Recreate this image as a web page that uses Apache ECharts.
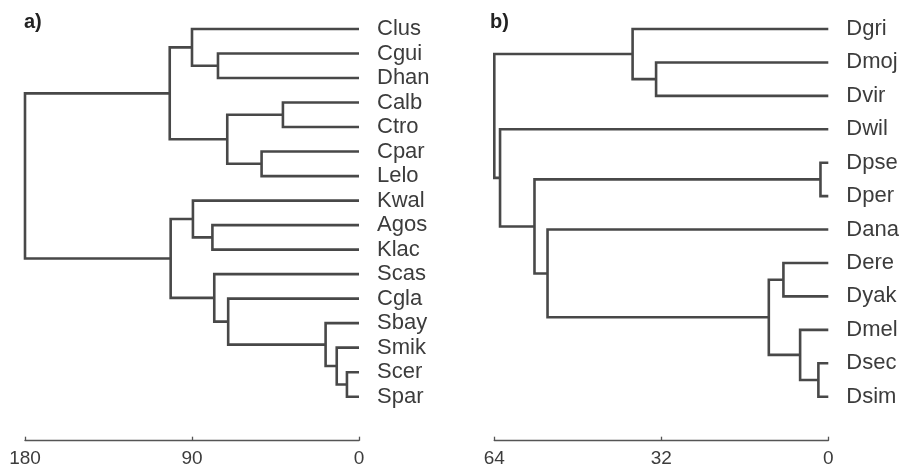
<!DOCTYPE html>
<html>
<head>
<meta charset="utf-8">
<script src="https://cdn.jsdelivr.net/npm/echarts@6/dist/echarts.min.js"></script>
<style>
  html, body { margin: 0; padding: 0; background: #fff; }
  #chart { width: 904px; height: 469px; }
</style>
</head>
<body>
<div id="chart"></div>
<script>
// panel a) leaves, top to bottom
const leavesA = ['Clus', 'Cgui', 'Dhan', 'Calb', 'Ctro', 'Cpar', 'Lelo', 'Kwal',
  'Agos', 'Klac', 'Scas', 'Cgla', 'Sbay', 'Smik', 'Scer', 'Spar'];
// merges: two children (leaf name or index of an earlier merge)
const mergesA = [
  ['Cgui', 'Dhan'], ['Clus', 0], ['Calb', 'Ctro'], ['Cpar', 'Lelo'], [2, 3], [1, 4],
  ['Agos', 'Klac'], ['Kwal', 6], ['Scer', 'Spar'], ['Smik', 8], ['Sbay', 9],
  ['Cgla', 10], ['Scas', 11], [7, 12], [5, 13]
];
const heightsA = [76, 90, 41, 52.5, 71, 102, 79, 89.5, 6.5, 12, 18, 70.5, 78, 101.5, 180];
const ticksA = [180, 90, 0];

// panel b)
const leavesB = ['Dgri', 'Dmoj', 'Dvir', 'Dwil', 'Dpse', 'Dper', 'Dana', 'Dere',
  'Dyak', 'Dmel', 'Dsec', 'Dsim'];
const mergesB = [
  ['Dmoj', 'Dvir'], ['Dgri', 0], ['Dpse', 'Dper'], ['Dere', 'Dyak'], ['Dsec', 'Dsim'],
  ['Dmel', 4], [3, 5], ['Dana', 6], [2, 7], ['Dwil', 8], [1, 9]
];
const heightsB = [33, 37.5, 1.5, 8.6, 1.9, 5.4, 11.4, 53.8, 56.3, 62.9, 64];
const ticksB = [64, 32, 0];

const lineColor = '#484848';
const textColor = '#3c3c3c';

// one U-shaped link per merge: [xChild1, yChild1, xNode, yChild2, xChild2]
function buildLinks(leaves, merges, heights) {
  const nodes = [];
  const pos = (c) => typeof c === 'number' ? nodes[c] : { x: 0, y: leaves.indexOf(c) };
  const links = [];
  merges.forEach((m, i) => {
    const a = pos(m[0]), b = pos(m[1]);
    links.push([a.x, a.y, heights[i], b.y, b.x]);
    nodes.push({ x: heights[i], y: (a.y + b.y) / 2 });
  });
  return links;
}

function renderLink(params, api) {
  const pts = [
    api.coord([api.value(0), api.value(1)]),
    api.coord([api.value(2), api.value(1)]),
    api.coord([api.value(2), api.value(3)]),
    api.coord([api.value(4), api.value(3)])
  ];
  return {
    type: 'polyline',
    shape: { points: pts },
    style: { stroke: lineColor, lineWidth: 2.6, fill: null, lineJoin: 'miter' }
  };
}

function xAxisFor(idx, max, interval) {
  return {
    gridIndex: idx, type: 'value', min: 0, max: max, interval: interval, inverse: true,
    position: 'bottom', offset: 44,
    axisLine: { show: true, onZero: false, lineStyle: { color: '#555', width: 1.3 } },
    axisTick: { show: true, inside: true, length: 4, lineStyle: { color: '#555', width: 1.3 } },
    axisLabel: { color: textColor, fontSize: 19, margin: 9, fontFamily: 'Liberation Sans' },
    splitLine: { show: false }
  };
}

function yAxisFor(idx, leaves) {
  return {
    gridIndex: idx, type: 'value', min: 0, max: leaves.length - 1, interval: 1, inverse: true,
    position: 'right',
    axisLine: { show: false }, axisTick: { show: false }, splitLine: { show: false },
    axisLabel: {
      color: textColor, fontSize: 22, margin: 18, fontFamily: 'Liberation Sans',
      formatter: (v) => leaves[v] || ''
    }
  };
}

const chart = echarts.init(document.getElementById('chart'));
chart.setOption({
  animation: false,
  backgroundColor: '#fff',
  title: [
    { text: 'a)', left: 19, top: 7, textStyle: { fontSize: 20, fontWeight: 'bold', color: '#222', fontFamily: 'Liberation Sans' } },
    { text: 'b)', left: 485, top: 7, textStyle: { fontSize: 20, fontWeight: 'bold', color: '#222', fontFamily: 'Liberation Sans' } }
  ],
  grid: [
    { left: 25, width: 334, top: 29, height: 367.7 },
    { left: 494.3, width: 334, top: 29, height: 367.7 }
  ],
  xAxis: [xAxisFor(0, ticksA[0], ticksA[1]), xAxisFor(1, ticksB[0], ticksB[1])],
  yAxis: [yAxisFor(0, leavesA), yAxisFor(1, leavesB)],
  series: [
    { type: 'custom', xAxisIndex: 0, yAxisIndex: 0, renderItem: renderLink,
      data: buildLinks(leavesA, mergesA, heightsA), clip: false },
    { type: 'custom', xAxisIndex: 1, yAxisIndex: 1, renderItem: renderLink,
      data: buildLinks(leavesB, mergesB, heightsB), clip: false }
  ]
});
</script>
</body>
</html>
